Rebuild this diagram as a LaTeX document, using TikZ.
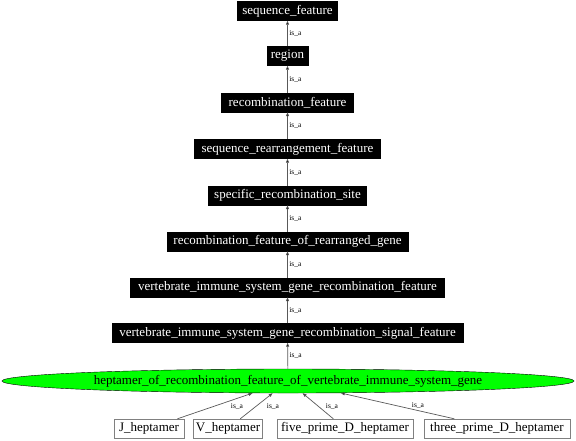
\documentclass[tikz,border=0pt]{standalone}
\usepackage{fontspec}
\setmainfont{Liberation Serif}
\usetikzlibrary{arrows.meta,shapes.geometric}
\begin{document}
\begin{tikzpicture}[x=1pt,y=-1pt,
  termbox/.style={draw=black,fill=black,text=white,inner sep=0pt,minimum height=19pt,font=\fontsize{13}{15}\selectfont},
  leafbox/.style={draw=black!50,fill=white,text=black,inner sep=0pt,minimum height=19pt,font=\fontsize{13}{15}\selectfont},
  focus/.style={ellipse,draw=black,fill=green,text=black,inner sep=0pt,minimum width=572pt,minimum height=24pt,font=\fontsize{13}{15}\selectfont},
  isa/.style={draw=black!65,line width=0.7pt,-{Triangle[length=4pt,width=3pt,fill=black]}},
  elab/.style={font=\fontsize{7.5}{8}\selectfont,text=black,inner sep=1.5pt}]
\useasboundingbox (0,0) rectangle (576,440);
\node[termbox,minimum width=100pt] (n1) at (287.5,11) {sequence\_feature};
\node[termbox,minimum width=41pt] (n2) at (287.5,56) {region};
\node[termbox,minimum width=132pt] (n3) at (287.5,102.5) {recombination\_feature};
\node[termbox,minimum width=186pt] (n4) at (287.5,149) {sequence\_rearrangement\_feature};
\node[termbox,minimum width=158pt] (n5) at (287.5,195.5) {specific\_recombination\_site};
\node[termbox,minimum width=241pt] (n6) at (287.5,241.5) {recombination\_feature\_of\_rearranged\_gene};
\node[termbox,minimum width=314pt] (n7) at (287.5,287.5) {vertebrate\_immune\_system\_gene\_recombination\_feature};
\node[termbox,minimum width=351pt] (n8) at (287.5,333) {vertebrate\_immune\_system\_gene\_recombination\_signal\_feature};
\node[focus] (e) at (288,381) {heptamer\_of\_recombination\_feature\_of\_vertebrate\_immune\_system\_gene};
\node[leafbox,minimum width=70pt] (j) at (149,428.5) {J\_heptamer};
\node[leafbox,minimum width=69pt] (v) at (228,428.5) {V\_heptamer};
\node[leafbox,minimum width=136pt] (f) at (345,428.5) {five\_prime\_D\_heptamer};
\node[leafbox,minimum width=146pt] (t) at (497,428.5) {three\_prime\_D\_heptamer};
\draw[isa] (n2) -- (n1) node[elab,midway,right] {is\_a};
\draw[isa] (n3) -- (n2) node[elab,midway,right] {is\_a};
\draw[isa] (n4) -- (n3) node[elab,midway,right] {is\_a};
\draw[isa] (n5) -- (n4) node[elab,midway,right] {is\_a};
\draw[isa] (n6) -- (n5) node[elab,midway,right] {is\_a};
\draw[isa] (n7) -- (n6) node[elab,midway,right] {is\_a};
\draw[isa] (n8) -- (n7) node[elab,midway,right] {is\_a};
\draw[isa] (e) -- (n8) node[elab,midway,right] {is\_a};
\draw[isa] (j) -- (e) node[elab,at={(237,406)}] {is\_a};
\draw[isa] (v) -- (e) node[elab,at={(273,406)}] {is\_a};
\draw[isa] (f) -- (e) node[elab,at={(332,406)}] {is\_a};
\draw[isa] (t) -- (e) node[elab,at={(418,405)}] {is\_a};
\end{tikzpicture}
\end{document}
